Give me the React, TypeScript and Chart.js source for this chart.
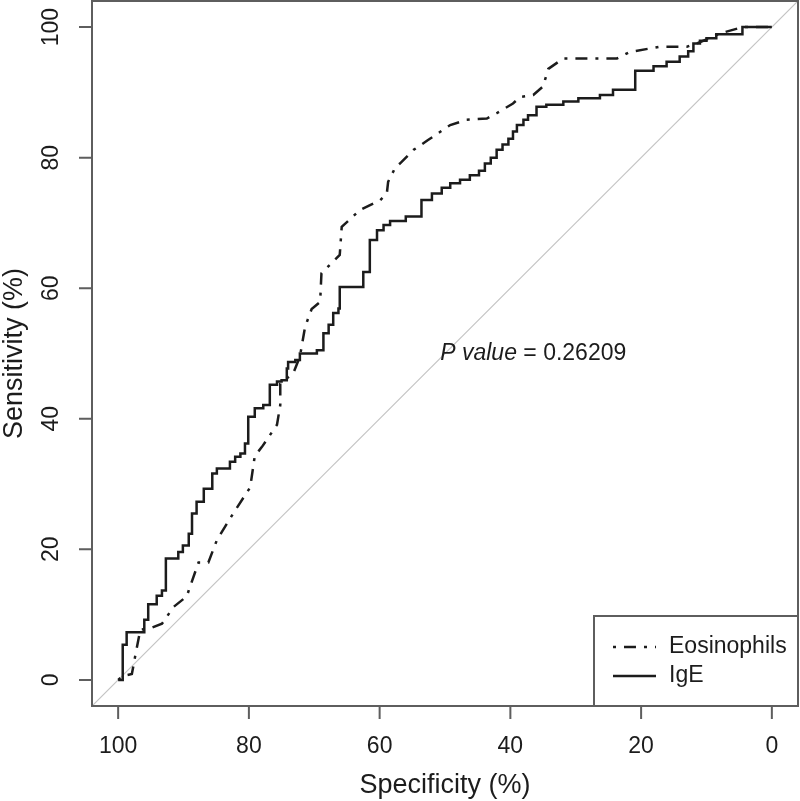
import React, { useEffect, useRef } from "react";
import { Chart, registerables } from "chart.js";

Chart.register(...registerables);

// ---- data ----
const tickValues = [0, 20, 40, 60, 80, 100];
const seriesNames = ["Eosinophils", "IgE"];
const xTitle = "Specificity (%)";
const yTitle = "Sensitivity (%)";
const pLabel = "P value";
const pNumber = " = 0.26209";
const pValueSpec = 36.5;
const pValueSens = 50;

const igeSpec = [100, 99.3, 98.7, 96.0, 95.4, 94.1, 93.3, 92.7, 90.8, 90.1, 89.2, 88.7, 88.0, 86.9, 85.6, 84.9, 82.9, 82.1, 81.3, 80.6, 80.1, 79.1, 77.8, 76.8, 75.7, 75.0, 74.2, 74.0, 72.9, 72.2, 69.6, 68.6, 67.8, 67.1, 66.3, 66.1, 62.5, 61.5, 60.4, 59.4, 58.4, 56.0, 53.6, 52.0, 50.5, 49.2, 47.7, 46.2, 44.8, 43.9, 43.0, 42.1, 41.2, 40.3, 39.6, 39.0, 38.0, 37.3, 36.0, 34.5, 31.9, 29.6, 26.3, 24.3, 20.9, 18.1, 16.1, 14.1, 12.8, 12.0, 11.0, 10.0, 8.5, 4.5, 0];
const igeSens = [0, 5.4, 7.3, 9.2, 11.6, 12.9, 13.7, 18.6, 19.6, 20.6, 22.4, 25.5, 27.3, 29.3, 31.6, 32.4, 33.4, 34.2, 34.7, 36.2, 40.3, 41.6, 42.1, 45.2, 45.7, 45.9, 47.7, 48.7, 49.0, 50.0, 50.5, 53.1, 54.4, 56.2, 56.9, 60.2, 62.5, 67.4, 68.9, 69.7, 70.3, 71.0, 73.5, 74.5, 75.4, 76.1, 76.6, 77.3, 78.0, 79.1, 80.0, 81.2, 82.0, 82.9, 84.0, 85.0, 85.8, 86.5, 87.8, 88.1, 88.6, 89.1, 89.6, 90.4, 93.3, 94.0, 94.7, 95.5, 96.3, 97.5, 97.9, 98.3, 98.9, 100, 100];

const eosSpec = [100, 99.3, 97.9, 97.4, 96.6, 95.1, 93.3, 91.5, 89.5, 89.1, 87.7, 86.2, 84.9, 82.4, 79.8, 79.1, 78.0, 75.7, 75.2, 75.2, 73.2, 72.2, 71.4, 70.4, 69.1, 68.9, 66.1, 65.8, 63.0, 59.9, 58.9, 58.7, 57.6, 56.9, 54.8, 52.6, 49.2, 46.7, 43.6, 42.1, 39.6, 38.5, 36.5, 35.0, 34.2, 31.9, 23.7, 21.7, 17.1, 13.0, 11.5, 10.0, 8.0, 4.5, 0];
const eosSens = [0, 0.6, 0.9, 3.6, 7.7, 7.9, 8.6, 11.2, 12.8, 14.0, 18.0, 18.0, 21.4, 25.5, 29.5, 34.3, 35.7, 39.1, 42.1, 45.4, 47.0, 49.5, 54.1, 56.8, 57.9, 62.3, 65.1, 69.4, 72.0, 73.5, 74.5, 76.3, 78.5, 79.1, 81.2, 82.7, 85.0, 85.8, 86.0, 86.8, 88.3, 89.3, 89.6, 90.9, 93.6, 95.2, 95.2, 96.2, 97.0, 97.0, 97.5, 98.1, 99.0, 100, 100];

const diagSpec = [104, -4];
const diagSens = [-4, 104];

const FONT = "'Liberation Sans', Arial, Helvetica, sans-serif";
const INK = "#1c1c1c";
const FRAME = "#5e5e5e";
const EOS_DASH = [3, 8, 12, 8];

const toPoints = (xs: number[], ys: number[]) => xs.map((x, i) => ({ x, y: ys[i] }));

const decorPlugin = {
  id: "rDecor",
  afterDraw(chart: any) {
    const ctx = chart.ctx as CanvasRenderingContext2D;
    const area = chart.chartArea;
    const xs = chart.scales.x;
    const ys = chart.scales.y;
    ctx.save();

    // frame
    ctx.strokeStyle = FRAME;
    ctx.lineWidth = 2;
    ctx.setLineDash([]);
    ctx.strokeRect(area.left, area.top, area.right - area.left, area.bottom - area.top);

    // ticks
    ctx.beginPath();
    tickValues.forEach((v) => {
      const px = xs.getPixelForValue(v);
      ctx.moveTo(px, area.bottom);
      ctx.lineTo(px, area.bottom + 13);
      const py = ys.getPixelForValue(v);
      ctx.moveTo(area.left, py);
      ctx.lineTo(area.left - 13, py);
    });
    ctx.stroke();

    // tick labels
    ctx.fillStyle = INK;
    ctx.font = `23px ${FONT}`;
    ctx.textAlign = "center";
    ctx.textBaseline = "middle";
    tickValues.forEach((v) => {
      ctx.fillText(String(v), xs.getPixelForValue(v), area.bottom + 41);
      ctx.save();
      ctx.translate(area.left - 40, ys.getPixelForValue(v));
      ctx.rotate(-Math.PI / 2);
      ctx.fillText(String(v), 0, 0);
      ctx.restore();
    });

    // axis titles
    ctx.font = `27px ${FONT}`;
    ctx.fillText(xTitle, (area.left + area.right) / 2, area.bottom + 80);
    ctx.save();
    ctx.translate(15, (area.top + area.bottom) / 2);
    ctx.rotate(-Math.PI / 2);
    ctx.fillText(yTitle, 0, 0);
    ctx.restore();

    // p value annotation
    ctx.font = `italic 23px ${FONT}`;
    const w1 = ctx.measureText(pLabel).width;
    ctx.font = `23px ${FONT}`;
    const w2 = ctx.measureText(pNumber).width;
    const cx = xs.getPixelForValue(pValueSpec);
    const cy = ys.getPixelForValue(pValueSens);
    const startX = cx - (w1 + w2) / 2;
    ctx.textAlign = "left";
    ctx.font = `italic 23px ${FONT}`;
    ctx.fillText(pLabel, startX, cy);
    ctx.font = `23px ${FONT}`;
    ctx.fillText(pNumber, startX + w1, cy);

    // legend
    const lw = 204;
    const lh = 90;
    const lx = area.right - lw;
    const ly = area.bottom - lh;
    ctx.fillStyle = "#ffffff";
    ctx.fillRect(lx, ly, lw, lh);
    ctx.strokeStyle = FRAME;
    ctx.lineWidth = 2;
    ctx.strokeRect(lx, ly, lw, lh);
    const rows = [
      { name: seriesNames[0], dash: EOS_DASH, y: ly + 31 },
      { name: seriesNames[1], dash: [] as number[], y: ly + 60 },
    ];
    rows.forEach((r) => {
      ctx.strokeStyle = INK;
      ctx.lineWidth = 2.5;
      ctx.setLineDash(r.dash);
      ctx.lineDashOffset = 0;
      ctx.beginPath();
      ctx.moveTo(lx + 19, r.y);
      ctx.lineTo(lx + 62, r.y);
      ctx.stroke();
      ctx.setLineDash([]);
      ctx.fillStyle = INK;
      ctx.font = `23px ${FONT}`;
      ctx.textAlign = "left";
      ctx.fillText(r.name, lx + 75, r.y);
    });

    ctx.restore();
  },
};

export default function App() {
  const canvasRef = useRef<HTMLCanvasElement | null>(null);

  useEffect(() => {
    document.body.style.margin = "0";
    const canvas = canvasRef.current;
    if (!canvas) return;
    const chart = new Chart(canvas, {
      type: "scatter",
      data: {
        datasets: [
          {
            label: seriesNames[0],
            data: toPoints(eosSpec, eosSens),
            showLine: true,
            borderColor: INK,
            borderWidth: 2.5,
            borderDash: EOS_DASH,
            pointRadius: 0,
            fill: false,
          },
          {
            label: seriesNames[1],
            data: toPoints(igeSpec, igeSens),
            showLine: true,
            stepped: "before",
            borderColor: INK,
            borderWidth: 2.5,
            pointRadius: 0,
            fill: false,
          },
          {
            label: "reference",
            data: toPoints(diagSpec, diagSens),
            showLine: true,
            borderColor: "#c4c4c4",
            borderWidth: 1.2,
            pointRadius: 0,
            fill: false,
          },
        ],
      },
      options: {
        animation: false,
        responsive: true,
        maintainAspectRatio: false,
        layout: { padding: { top: 1, right: 2, bottom: 0, left: 0 } },
        plugins: {
          legend: { display: false },
          tooltip: { enabled: false },
          title: { display: false },
        },
        scales: {
          x: {
            type: "linear",
            min: -4,
            max: 104,
            reverse: true,
            grid: { display: false },
            border: { display: false },
            ticks: { display: false },
            afterFit: (s: any) => {
              s.height = 95;
            },
          },
          y: {
            type: "linear",
            min: -4,
            max: 104,
            grid: { display: false },
            border: { display: false },
            ticks: { display: false },
            afterFit: (s: any) => {
              s.width = 92;
            },
          },
        },
      },
      plugins: [decorPlugin],
    });
    return () => chart.destroy();
  }, []);

  return (
    <div style={{ position: "absolute", left: 0, top: 0, width: 800, height: 801, background: "#fff" }}>
      <canvas ref={canvasRef} />
    </div>
  );
}
